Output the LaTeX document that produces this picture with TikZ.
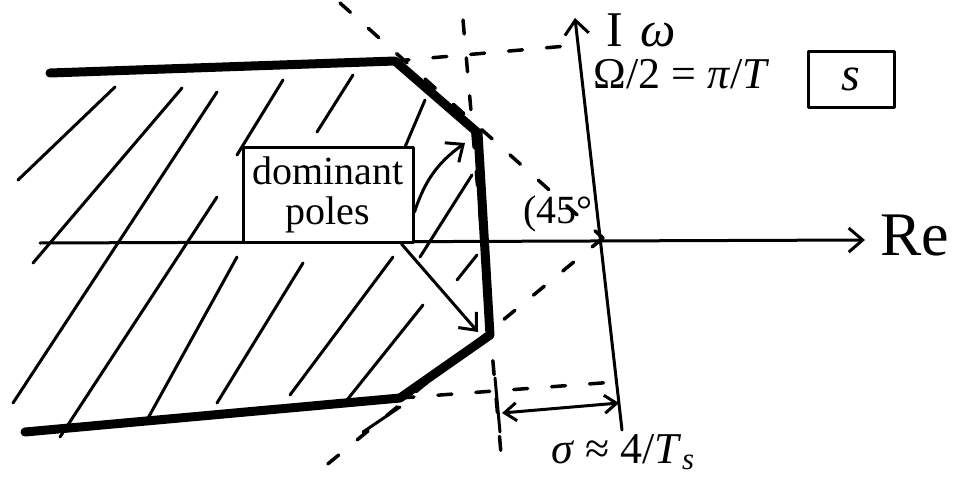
\documentclass[tikz,border=0pt]{standalone}
\usepackage{fontspec}
\setmainfont{Liberation Serif}
\usetikzlibrary{arrows.meta}
\begin{document}
\begin{tikzpicture}[x=1pt,y=-1pt, line cap=round, line join=round,
  thinline/.style={line width=3pt},
  bound/.style={line width=9pt},
  dashline/.style={line width=3.5pt, dash pattern=on 14pt off 24pt},
  hatch/.style={line width=3pt},
  barb/.style={-{Straight Barb[length=14pt,width=24pt,line width=3pt]}},
  dbarb/.style={{Straight Barb[length=12pt,width=18pt,line width=3pt]}-{Straight Barb[length=12pt,width=18pt,line width=3pt]}},
  lbl/.style={inner sep=0pt}]
\useasboundingbox (0,0) rectangle (964,479);

% key points
\coordinate (O) at (603,238);
\coordinate (ImTop) at (575,18);
\coordinate (ImBot) at (622,430);
\coordinate (ReL) at (40,243);
\coordinate (ReR) at (865,240);
\coordinate (b1) at (50,73);
\coordinate (b2) at (395,61);
\coordinate (b3) at (478,133);
\coordinate (b4) at (490,335);
\coordinate (b5) at (400,398);
\coordinate (b6) at (25,432);

% dashed construction lines
\coordinate (dU) at (340,3);
\coordinate (dL) at (318,472);
\coordinate (vT) at (463,20);
\coordinate (vB) at (502,465);
\coordinate (hT) at (578,45);
\coordinate (hB) at (615,382);
\draw[dashline] (dU) -- (O);
\draw[dashline] (O) -- (dL);
\draw[dashline] (vT) -- (vB);
\draw[dashline] (b2) -- (hT);
\draw[dashline] (b5) -- (hB);

% hatching
\foreach \a/\b in {{18,180}/{115,87}, {33,263}/{182,88}, {13,403}/{217,92},
  {60,437}/{217,197}, {237,155}/{283,80}, {147,420}/{237,257},
  {217,403}/{303,263}, {290,395}/{393,257}, {347,400}/{423,305},
  {457,280}/{477,255}, {420,257}/{472,175}, {405,147}/{425,100},
  {317,132}/{353,75}, {363,432}/{400,407}}
  \draw[hatch] (\a) -- (\b);

% axes
\draw[thinline, barb] (ImBot) -- (ImTop);
\draw[thinline, barb] (ReL) -- (ReR);

% boundary of allowed region
\draw[bound] (b1) -- (b2) -- (b3) -- (b4) -- (b5) -- (b6);

% sigma dimension
\coordinate (tT) at (495,378);
\coordinate (tB) at (500,432);
\coordinate (sL) at (502,413);
\coordinate (sR) at (619,403);
\draw[thinline] (tT) -- (tB);
\draw[thinline, dbarb] (sL) -- (sR);

% dominant poles box
\node[draw, fill=white, thinline, minimum width=170pt, minimum height=95pt, align=center,
  font=\fontsize{40}{40}\selectfont, inner sep=0pt] (dp) at (328,195) {dominant\\poles};
\draw[thinline, barb] ([yshift=-17pt]dp.east) to[bend left=18] ([shift={(-13pt,-10pt)}]b3);
\draw[thinline, barb] ([xshift=-13pt]dp.south east) -- ([shift={(-12pt,3pt)}]b4);

% labels
\node[lbl, font=\fontsize{50}{52}\selectfont] (im) at (641,30) {I\,\,\textit{ω}};
\node[lbl, font=\fontsize{44}{46}\selectfont] (nyq) at (682,74) {Ω/2 = \textit{π}/\textit{T}};
\node[draw, thinline, minimum width=86pt, minimum height=56pt, font=\fontsize{48}{50}\selectfont] (splane) at (851,79) {\textit{s}};
\node[lbl, font=\fontsize{62}{64}\selectfont] (re) at (915,236) {Re};
\node[lbl, font=\fontsize{40}{42}\selectfont] (ang) at (558,214) {(45°};
\node[lbl, font=\fontsize{44}{46}\selectfont] (sig) at (623,452) {\textit{σ} ≈ 4/\textit{T}\textsubscript{\textit{s}}};
\end{tikzpicture}
\end{document}
